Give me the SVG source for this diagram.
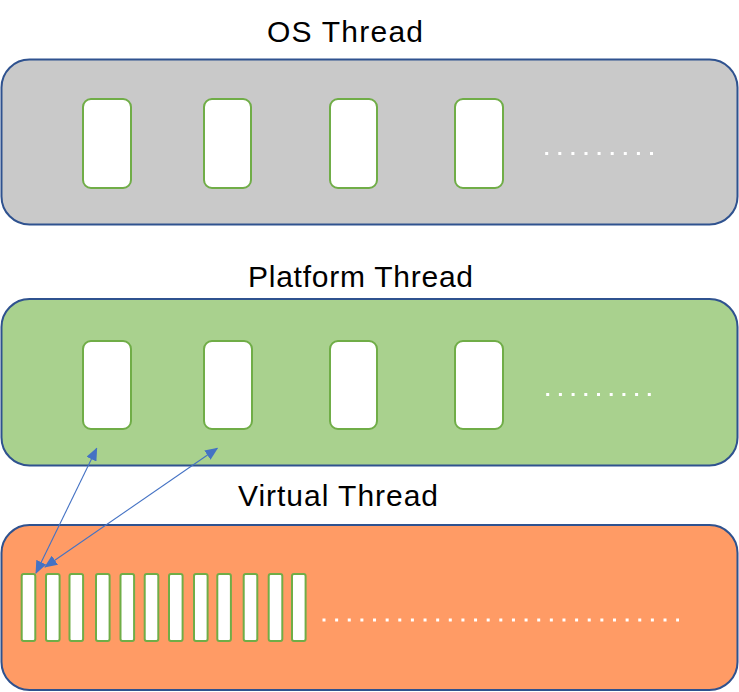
<svg xmlns="http://www.w3.org/2000/svg" width="739" height="692" viewBox="0 0 739 692">
<defs>
<style>
.panel{stroke:#2F528F;stroke-width:2}
.slot{fill:#FFFFFF;stroke:#70AD47;stroke-width:2}
.lbl{font-family:"Liberation Sans",Arial,sans-serif;font-size:30px;fill:#000000;text-anchor:middle}
.dots{stroke:#FFFFFF;stroke-width:3.2;fill:none}
.conn{stroke:#4472C4;stroke-width:1.1;fill:none;marker-start:url(#ah);marker-end:url(#ah)}
</style>
<marker id="ah" viewBox="0 0 13 11" refX="12" refY="5.5" markerWidth="13" markerHeight="11" markerUnits="userSpaceOnUse" orient="auto-start-reverse">
<path d="M0,0 L13,5.5 L0,11 Z" fill="#4472C4"/>
</marker>
</defs>
<rect width="739" height="692" fill="#FFFFFF"/>

<g id="os-thread">
<text class="lbl" x="345" y="41.5" textLength="156" lengthAdjust="spacing">OS Thread</text>
<rect class="panel" x="1.5" y="59.5" width="736" height="165" rx="28" fill="#C9C9C9"/>
<rect class="slot" x="83" y="99" width="48" height="89" rx="8"/>
<rect class="slot" x="204" y="99" width="47" height="89" rx="8"/>
<rect class="slot" x="330" y="99" width="47" height="89" rx="8"/>
<rect class="slot" x="455" y="99" width="48" height="89" rx="8"/>
<line class="dots" x1="545.2" y1="153.5" x2="653.2" y2="153.5" stroke-dasharray="3 10.1"/>
</g>

<g id="platform-thread">
<text class="lbl" x="360.5" y="287.3" textLength="225" lengthAdjust="spacing">Platform Thread</text>
<rect class="panel" x="1.5" y="299" width="736" height="166.5" rx="28" fill="#A9D18E"/>
<rect class="slot" x="83" y="341" width="48" height="88" rx="8"/>
<rect class="slot" x="204" y="341" width="48" height="88" rx="8"/>
<rect class="slot" x="330" y="341" width="47" height="88" rx="8"/>
<rect class="slot" x="455" y="341" width="48" height="88" rx="8"/>
<line class="dots" x1="546.2" y1="394.5" x2="650.8" y2="394.5" stroke-dasharray="3 9.7"/>
</g>

<g id="virtual-thread">
<text class="lbl" x="338" y="506.3" textLength="200" lengthAdjust="spacing">Virtual Thread</text>
<rect class="panel" x="1.5" y="525" width="736" height="165" rx="28" fill="#FF9B65"/>
<rect class="slot" x="21.7" y="574" width="13.6" height="67" rx="2"/>
<rect class="slot" x="46" y="574" width="13.6" height="67" rx="2"/>
<rect class="slot" x="69.5" y="574" width="13.6" height="67" rx="2"/>
<rect class="slot" x="96" y="574" width="13.6" height="67" rx="2"/>
<rect class="slot" x="120.5" y="574" width="13.6" height="67" rx="2"/>
<rect class="slot" x="144.7" y="574" width="13.6" height="67" rx="2"/>
<rect class="slot" x="169" y="574" width="13.6" height="67" rx="2"/>
<rect class="slot" x="194" y="574" width="13.6" height="67" rx="2"/>
<rect class="slot" x="217.3" y="574" width="13.6" height="67" rx="2"/>
<rect class="slot" x="243.7" y="574" width="13.6" height="67" rx="2"/>
<rect class="slot" x="268.7" y="574" width="13.6" height="67" rx="2"/>
<rect class="slot" x="292" y="574" width="13.6" height="67" rx="2"/>
<line class="dots" x1="322.5" y1="620" x2="679" y2="620" stroke-dasharray="3 9.63"/>
</g>

<g id="connectors">
<line class="conn" x1="36" y1="573" x2="96.7" y2="448.3"/>
<line class="conn" x1="45" y1="567" x2="217.3" y2="448.3"/>
</g>
</svg>
